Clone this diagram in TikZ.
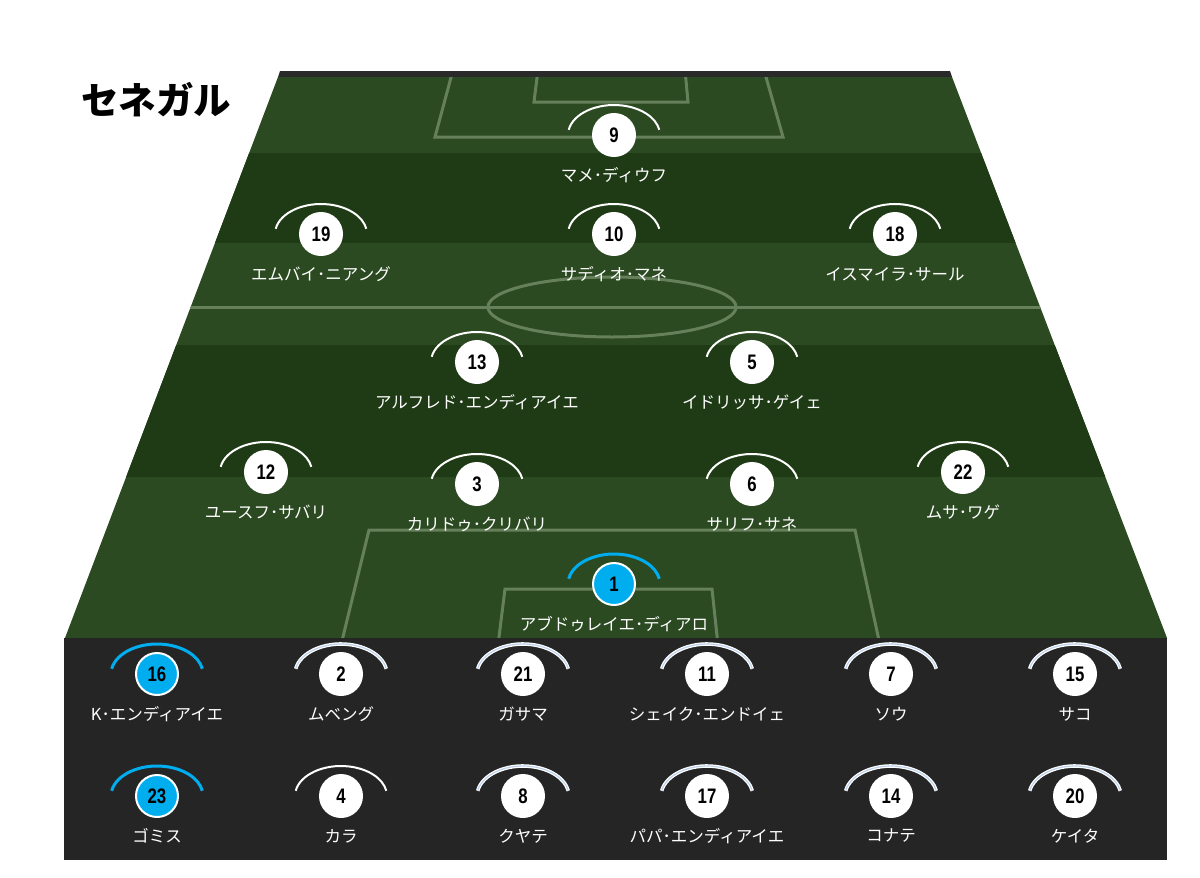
\documentclass[tikz,border=0pt]{standalone}
\usepackage{fontspec}
\setmainfont{Noto Sans CJK JP}
\newfontfamily\numfont[FakeStretch=0.8]{Liberation Sans}
\definecolor{lightg}{HTML}{2B4A21}
\definecolor{darkg}{HTML}{1F3B16}
\definecolor{benchc}{HTML}{252525}
\definecolor{topbar}{HTML}{2A2A2A}
\definecolor{cyanp}{HTML}{00AEEF}
\definecolor{arcblue}{HTML}{BFD3EE}
\definecolor{pline}{HTML}{66805C}
\tikzset{
  numw/.style={circle, fill=white, draw=white, line width=2pt, minimum size=42pt, inner sep=0pt, text=black, font=\numfont\bfseries\fontsize{21}{21}\selectfont},
  numb/.style={numw, fill=cyanp},
  lbl/.style={text=white, inner sep=0pt, font=\fontsize{16.5}{16.5}\selectfont},
  arcw/.style={draw=white, line width=2pt},
  arcb/.style={draw=cyanp, line width=3pt},
  arcd/.style={draw=white, double=arcblue, double distance=1.2pt, line width=1.2pt},
  pitchline/.style={draw=pline, line width=3pt},
}
\newcommand\plr[7]{%
  \node[#6] (#1) at (#2,#3) {#4};
  \node[lbl] (#1l) at (#2,#3+40) {#5};
  \draw[#7] ([shift={(-45.3,-5.2)}]#1.center) arc[start angle=170, end angle=10, x radius=46pt, y radius=30pt];
}
\begin{document}
\begin{tikzpicture}[x=1pt,y=-1pt]
\useasboundingbox (0,0) rectangle (1200,878);
\fill[white] (0,0) rectangle (1200,878);
% top bar
\fill[topbar] (280,71) -- (950,71) -- (952,77) -- (278,77) -- cycle;
% pitch
\fill[lightg] (278,77) -- (952,77) -- (1167,638) -- (65,638) -- cycle;
\begin{scope}
  \clip (278,77) -- (952,77) -- (1167,638) -- (65,638) -- cycle;
  \fill[darkg] (0,153) rectangle (1200,243);
  \fill[darkg] (0,345) rectangle (1200,477);
  \draw[pitchline] (0,307) -- (1200,307);
  \draw[pitchline] (612,307) ellipse[x radius=124pt, y radius=30pt];
  \draw[pitchline] (453,70) -- (435,137) -- (783,137) -- (764,70);
  \draw[pitchline] (538,70) -- (534,102) -- (688,102) -- (685,70);
  \draw[pitchline] (341,645) -- (369,530) -- (855,530) -- (880,645);
  \draw[pitchline] (498,645) -- (505,589) -- (712,589) -- (718,645);
\end{scope}
% bench
\fill[benchc] (64,638) rectangle (1167,860);
% title
\node[anchor=west, inner sep=0pt, font=\bfseries\fontsize{37.5}{37.5}\selectfont] (title) at (81,100) {セネガル};
% starters
\plr{p9}{614}{135}{9}{マメ･ディウフ}{numw}{arcw}
\plr{p19}{321}{234}{19}{エムバイ･ニアング}{numw}{arcw}
\plr{p10}{614}{234}{10}{サディオ･マネ}{numw}{arcw}
\plr{p18}{895}{234}{18}{イスマイラ･サール}{numw}{arcw}
\plr{p13}{477}{362}{13}{アルフレド･エンディアイエ}{numw}{arcw}
\plr{p5}{752}{362}{5}{イドリッサ･ゲイェ}{numw}{arcw}
\plr{p12}{266}{472}{12}{ユースフ･サバリ}{numw}{arcw}
\plr{p3}{477}{484}{3}{カリドゥ･クリバリ}{numw}{arcw}
\plr{p6}{752}{484}{6}{サリフ･サネ}{numw}{arcw}
\plr{p22}{963}{472}{22}{ムサ･ワゲ}{numw}{arcw}
\plr{p1}{614}{584}{1}{アブドゥレイエ･ディアロ}{numb}{arcb}
% bench row 1
\plr{b16}{157}{674}{16}{K･エンディアイエ}{numb}{arcb}
\plr{b2}{341}{674}{2}{ムベング}{numw}{arcd}
\plr{b21}{523}{674}{21}{ガサマ}{numw}{arcd}
\plr{b11}{707}{674}{11}{シェイク･エンドイェ}{numw}{arcd}
\plr{b7}{891}{674}{7}{ソウ}{numw}{arcd}
\plr{b15}{1075}{674}{15}{サコ}{numw}{arcd}
% bench row 2
\plr{b23}{157}{796}{23}{ゴミス}{numb}{arcb}
\plr{b4}{341}{796}{4}{カラ}{numw}{arcw}
\plr{b8}{523}{796}{8}{クヤテ}{numw}{arcd}
\plr{b17}{707}{796}{17}{パパ･エンディアイエ}{numw}{arcd}
\plr{b14}{891}{796}{14}{コナテ}{numw}{arcd}
\plr{b20}{1075}{796}{20}{ケイタ}{numw}{arcd}
\end{tikzpicture}
\end{document}
